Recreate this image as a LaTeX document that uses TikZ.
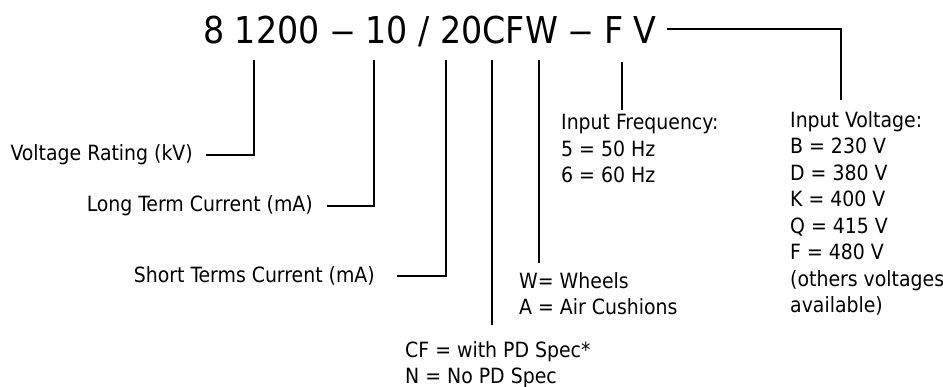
\documentclass[tikz,border=0pt]{standalone}
\usepackage{graphicx}
\usepackage{fontspec}
\setmainfont{DejaVu Sans Condensed}
\newcommand{\codedash}{\scalebox{1.5}[1]{\textendash}}

\begin{document}
\begin{tikzpicture}[x=1pt, y=-1pt, lead/.style={line width=1.6pt},
    lbl/.style={inner sep=0pt, font=\fontsize{21}{26.5}\selectfont, align=left}]
    \useasboundingbox (0,0) rectangle (943,387);
    \node[inner sep=0pt, anchor=base west, font=\fontsize{37}{44}\selectfont] (code) at (203,44)
        {8 1200 \codedash{} 10 / 20CFW \codedash{} F V};
    \coordinate (t1200) at (254,60);
    \coordinate (t10) at (374,60);
    \coordinate (t20) at (446,60);
    \coordinate (tcf) at (492,60);
    \coordinate (tw) at (539,60);
    \coordinate (tf) at (622,62);
    \coordinate (tv) at (667,29);
    \node[lbl, anchor=east] (rating) at (193,155) {Voltage Rating (kV)};
    \node[lbl, anchor=east] (longterm) at (313,206) {Long Term Current (mA)};
    \node[lbl, anchor=east] (shortterm) at (375,276) {Short Terms Current (mA)};
    \node[lbl, anchor=north west] (pdspec) at (405,341) {CF = with PD Spec*\\N = No PD Spec};
    \node[lbl, anchor=north west] (wheels) at (519,272) {W= Wheels\\A = Air Cushions};
    \node[lbl, anchor=north west] (freq) at (561,114) {Input Frequency:\\5 = 50 Hz\\6 = 60 Hz};
    \node[lbl, anchor=north west] (involt) at (790,111)
        {Input Voltage:\\B = 230 V\\D = 380 V\\K = 400 V\\Q = 415 V\\F = 480 V\\(others voltages\\available)};
    \draw[lead] (t1200) |- ([xshift=13pt]rating.east);
    \draw[lead] (t10) |- ([xshift=14pt]longterm.east);
    \draw[lead] (t20) |- ([xshift=22pt]shortterm.east);
    \draw[lead, shorten >=16pt] (tcf) -- (tcf |- pdspec.north);
    \draw[lead, shorten >=9pt] (tw) -- (tw |- wheels.north);
    \draw[lead, shorten >=4pt] (tf) -- (tf |- freq.north);
    \draw[lead] (tv) -| ([xshift=51pt,yshift=11pt]involt.north west);
\end{tikzpicture}
\end{document}
